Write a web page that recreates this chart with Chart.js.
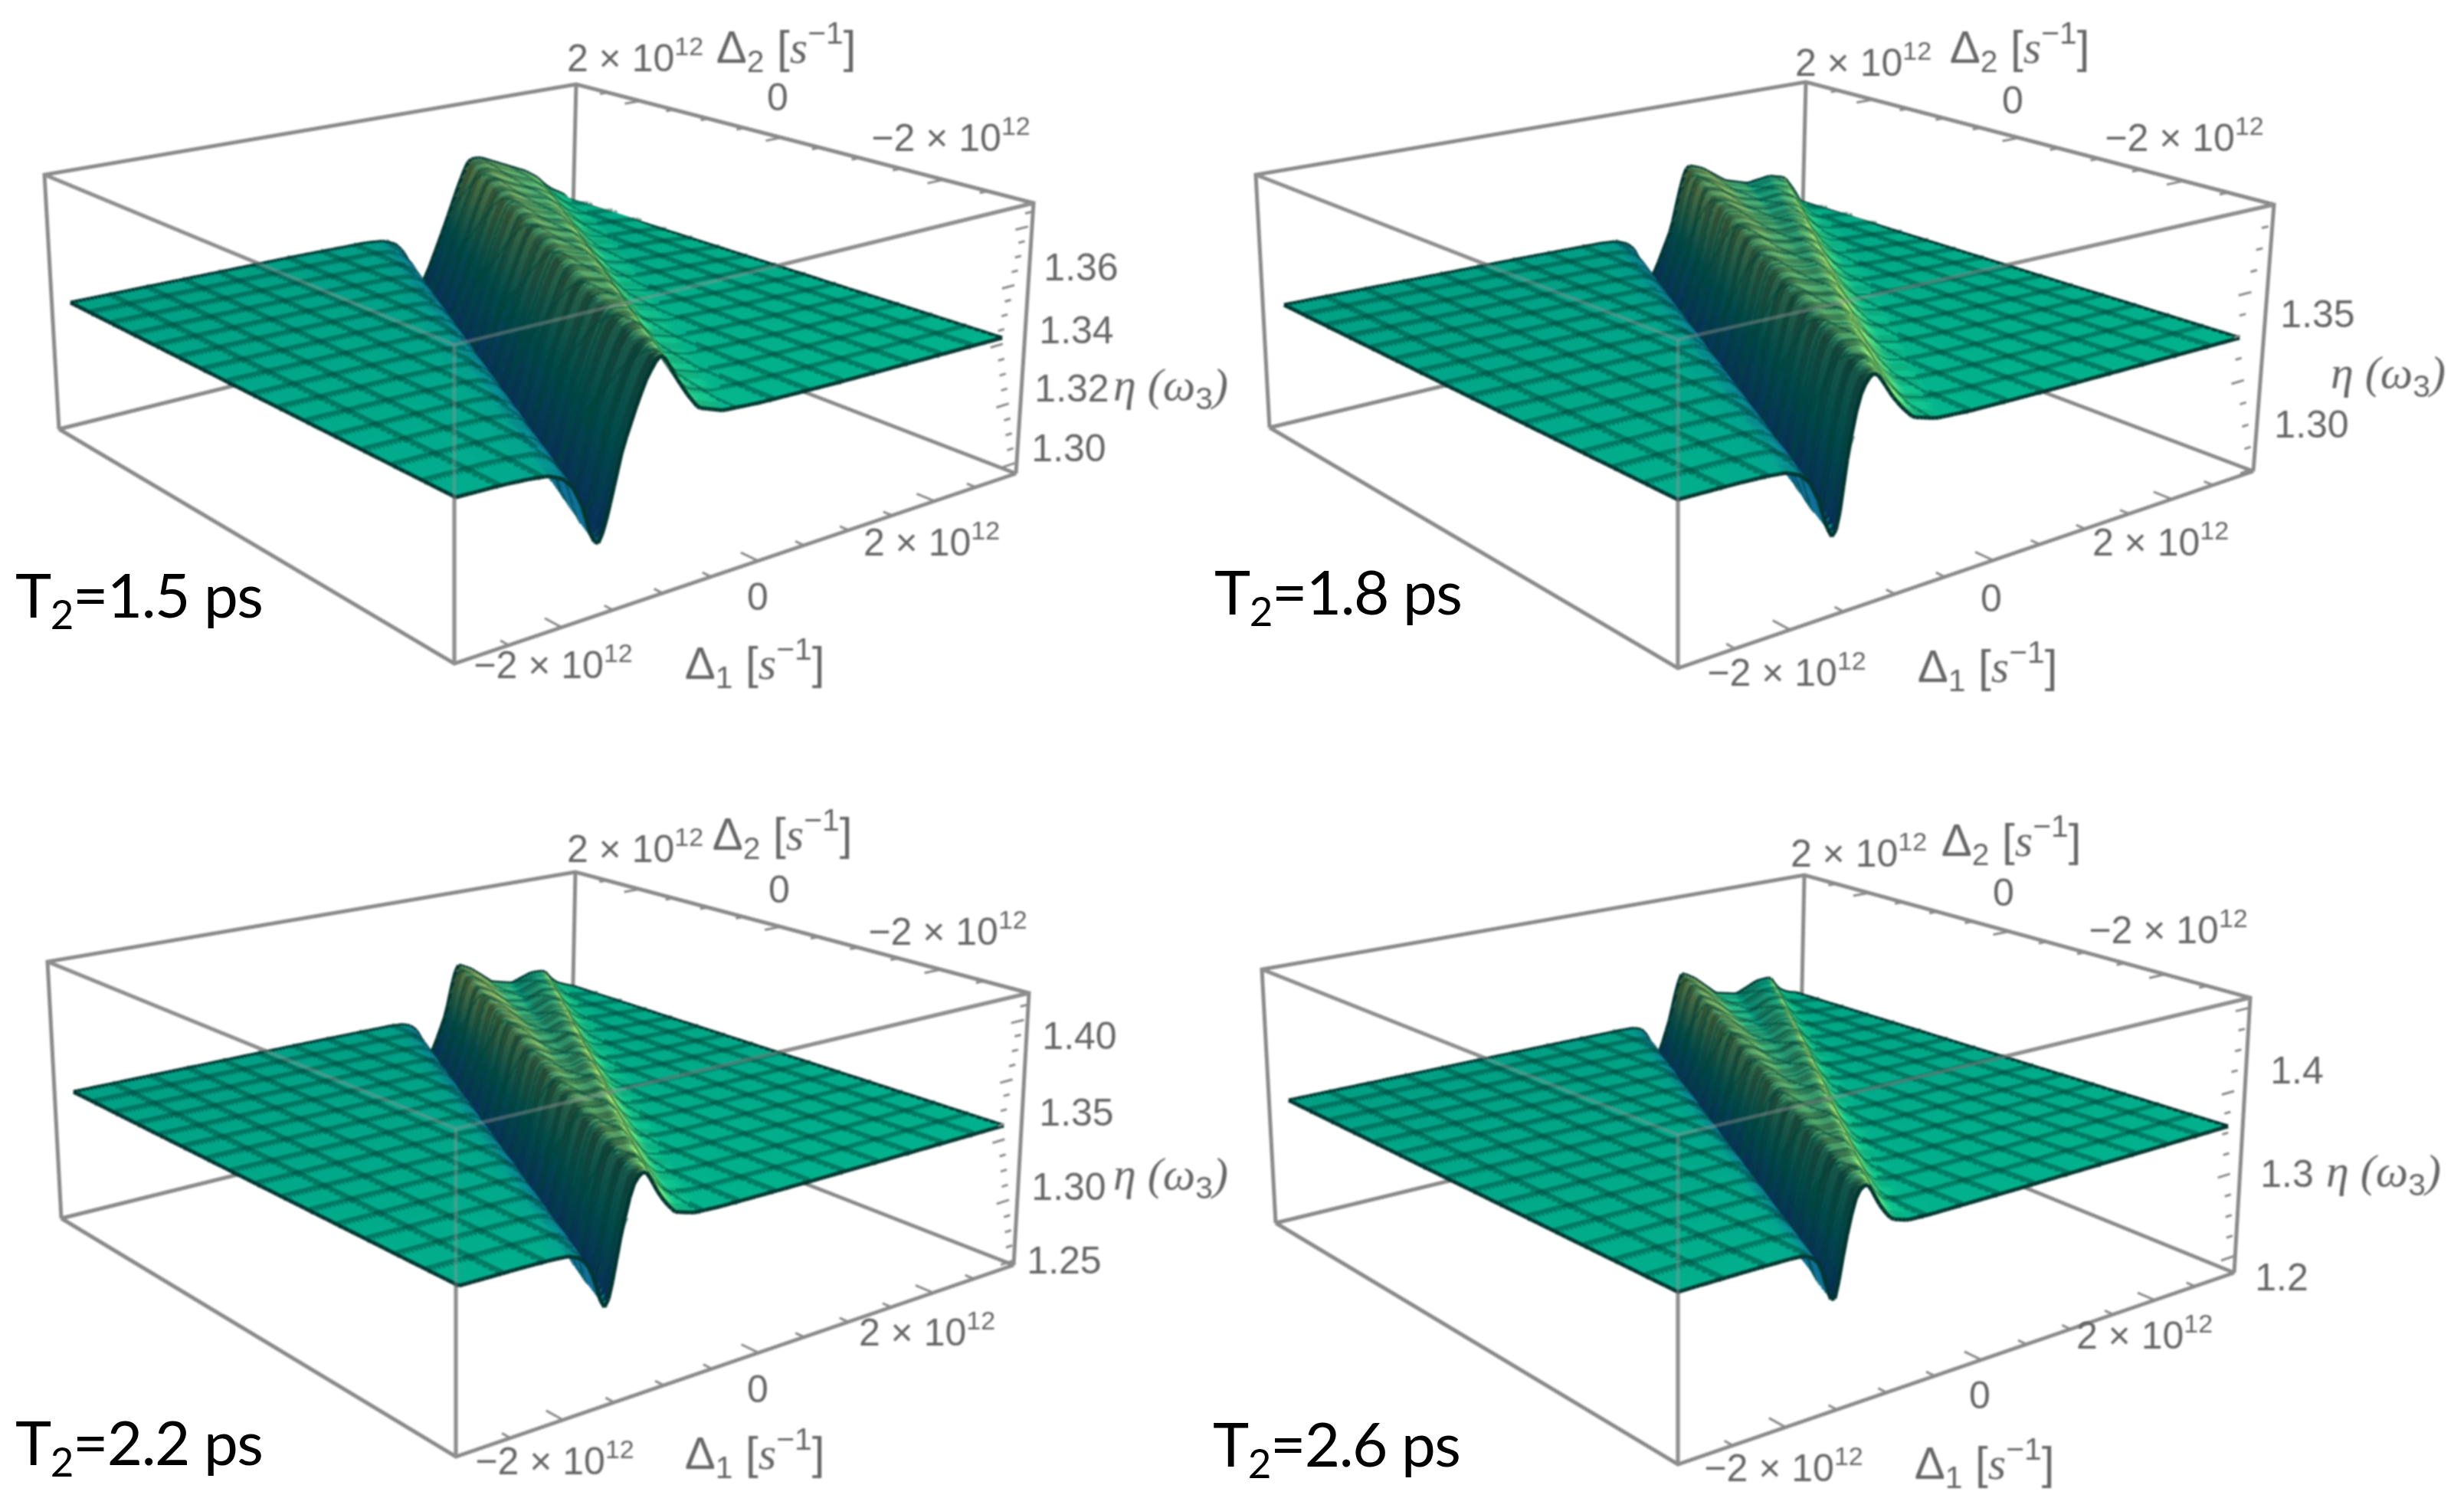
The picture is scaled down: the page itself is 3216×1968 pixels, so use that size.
<!DOCTYPE html>
<html>
<head>
<meta charset="utf-8">
<title>eta surfaces</title>
<script src="https://cdn.jsdelivr.net/npm/chart.js@4"></script>
<style>
  html, body { margin: 0; padding: 0; background: #fff; }
  #page { position: relative; width: 3216px; height: 1968px; overflow: hidden; }
  canvas { position: absolute; filter: blur(1.3px); }
  .lbl { position: absolute; transform: translate(-50%, -50%); white-space: nowrap; color: #666;
         font: 50px "Liberation Sans", sans-serif; filter: blur(0.8px); }
  .lbl.axis { font-size: 60px; }
  .lbl sup { font-size: 0.68em; line-height: 0; vertical-align: 0.62em; }
  .lbl sub { font-size: 0.68em; line-height: 0; vertical-align: -0.3em; }
  .lbl i { font-family: "Liberation Serif", serif; }
  .name { position: absolute; transform: translateY(-50%); white-space: nowrap; color: #000;
          font: 80px Lato, sans-serif; letter-spacing: -1.5px; }
  .name sub { font-size: 0.66em; line-height: 0; vertical-align: -0.28em; }
</style>
</head>
<body>
<div id="page"></div>
<script>
// detunings are in units of 1e12 s^-1
const delta1Range = [-3, 3];
const delta2Range = [-3, 3];
const delta1Ticks = [-3, -2.5, -2, -1.5, -1, -0.5, 0, 0.5, 1, 1.5, 2, 2.5, 3];
const delta2Ticks = [-3, -2.5, -2, -1.5, -1, -0.5, 0, 0.5, 1, 1.5, 2, 2.5, 3];
const majorDeltaTicks = [-2, 0, 2];
const delta2Rows = [-3, -2, -1, 0, 1, 2, 3];

// T2 = 1.5 ps
const etaRange15 = [1.2865, 1.378];
const etaFlat15 = 1.332;
const etaTicks15 = [1.29, 1.295, 1.3, 1.305, 1.31, 1.315, 1.32, 1.325, 1.33, 1.335, 1.34, 1.345, 1.35, 1.355, 1.36, 1.365, 1.37, 1.375];
const trough15 = [-1.68, -1.23, -0.78, -0.33, 0.12, 0.57, 1.02];
const peakA15 = [-1.12, -0.65, -0.19, 0.28, 0.75, 1.21, 1.68];
const peakB15 = [-1.04, -0.45, 0.14, 0.73, 1.32, 1.91, 2.5];
const eta15 = [
  [1.332, 1.3315, 1.33, 1.323, 1.306, 1.308, 1.331, 1.351, 1.357, 1.3585, 1.358, 1.346, 1.3355, 1.3335, 1.332],
  [1.332, 1.3315, 1.33, 1.323, 1.306, 1.308, 1.331, 1.351, 1.357, 1.357, 1.356, 1.344, 1.3355, 1.3335, 1.332],
  [1.332, 1.3315, 1.33, 1.323, 1.307, 1.309, 1.331, 1.351, 1.357, 1.355, 1.354, 1.343, 1.3355, 1.3335, 1.332],
  [1.332, 1.3315, 1.33, 1.323, 1.307, 1.309, 1.331, 1.351, 1.357, 1.354, 1.352, 1.342, 1.335, 1.3335, 1.332],
  [1.332, 1.3315, 1.33, 1.323, 1.308, 1.31, 1.331, 1.351, 1.357, 1.352, 1.35, 1.341, 1.335, 1.3335, 1.332],
  [1.332, 1.3315, 1.33, 1.323, 1.308, 1.31, 1.331, 1.351, 1.357, 1.351, 1.348, 1.34, 1.335, 1.3335, 1.332],
  [1.332, 1.3315, 1.33, 1.323, 1.308, 1.31, 1.331, 1.351, 1.357, 1.351, 1.345, 1.338, 1.334, 1.3325, 1.332]
];

// T2 = 1.8 ps
const etaRange18 = [1.279, 1.4];
const etaFlat18 = 1.339;
const etaTicks18 = [1.28, 1.29, 1.3, 1.31, 1.32, 1.33, 1.34, 1.35, 1.36, 1.37, 1.38, 1.39, 1.4];
const trough18 = [-1.62, -1.18, -0.74, -0.3, 0.14, 0.58, 1.02];
const peakA18 = [-1.24, -0.77, -0.31, 0.16, 0.63, 1.09, 1.56];
const peakB18 = [-1.16, -0.52, 0.13, 0.77, 1.41, 2.06, 2.7];
const eta18 = [
  [1.339, 1.3385, 1.337, 1.329, 1.308, 1.31, 1.338, 1.361, 1.367, 1.368, 1.367, 1.353, 1.3425, 1.3405, 1.339],
  [1.339, 1.3385, 1.337, 1.329, 1.308, 1.31, 1.338, 1.361, 1.367, 1.366, 1.365, 1.351, 1.3425, 1.3405, 1.339],
  [1.339, 1.3385, 1.337, 1.329, 1.309, 1.311, 1.338, 1.362, 1.368, 1.364, 1.363, 1.35, 1.3425, 1.3405, 1.339],
  [1.339, 1.3385, 1.337, 1.329, 1.309, 1.311, 1.338, 1.362, 1.368, 1.362, 1.362, 1.349, 1.342, 1.3405, 1.339],
  [1.339, 1.3385, 1.337, 1.329, 1.31, 1.312, 1.338, 1.363, 1.369, 1.36, 1.361, 1.348, 1.342, 1.3405, 1.339],
  [1.339, 1.3385, 1.337, 1.329, 1.31, 1.312, 1.338, 1.363, 1.369, 1.357, 1.359, 1.346, 1.342, 1.3405, 1.339],
  [1.339, 1.3385, 1.337, 1.329, 1.31, 1.312, 1.338, 1.363, 1.37, 1.353, 1.356, 1.345, 1.34, 1.3395, 1.339]
];

// T2 = 2.2 ps
const etaRange22 = [1.247, 1.428];
const etaFlat22 = 1.339;
const etaTicks22 = [1.25, 1.26, 1.27, 1.28, 1.29, 1.3, 1.31, 1.32, 1.33, 1.34, 1.35, 1.36, 1.37, 1.38, 1.39, 1.4, 1.41, 1.42];
const trough22 = [-1.62, -1.17, -0.72, -0.27, 0.18, 0.63, 1.08];
const peakA22 = [-1.27, -0.81, -0.35, 0.12, 0.58, 1.04, 1.5];
const peakB22 = [-1.19, -0.57, 0.06, 0.68, 1.3, 1.93, 2.55];
const eta22 = [
  [1.339, 1.3385, 1.337, 1.327, 1.302, 1.304, 1.338, 1.367, 1.374, 1.375, 1.374, 1.355, 1.342, 1.34, 1.339],
  [1.339, 1.3385, 1.337, 1.327, 1.302, 1.304, 1.338, 1.367, 1.374, 1.372, 1.372, 1.354, 1.342, 1.34, 1.339],
  [1.339, 1.3385, 1.337, 1.327, 1.303, 1.305, 1.338, 1.367, 1.374, 1.369, 1.371, 1.353, 1.342, 1.34, 1.339],
  [1.339, 1.3385, 1.337, 1.327, 1.304, 1.306, 1.338, 1.367, 1.374, 1.364, 1.37, 1.352, 1.342, 1.34, 1.339],
  [1.339, 1.3385, 1.337, 1.327, 1.305, 1.307, 1.338, 1.368, 1.375, 1.36, 1.368, 1.35, 1.342, 1.34, 1.339],
  [1.339, 1.3385, 1.337, 1.327, 1.306, 1.308, 1.338, 1.368, 1.375, 1.354, 1.365, 1.348, 1.342, 1.34, 1.339],
  [1.339, 1.3385, 1.337, 1.327, 1.306, 1.308, 1.338, 1.368, 1.375, 1.349, 1.359, 1.346, 1.341, 1.3395, 1.339]
];

// T2 = 2.6 ps
const etaRange26 = [1.204, 1.47];
const etaFlat26 = 1.346;
const etaTicks26 = [1.22, 1.24, 1.26, 1.28, 1.3, 1.32, 1.34, 1.36, 1.38, 1.4, 1.42, 1.44, 1.46];
const trough26 = [-1.56, -1.11, -0.66, -0.21, 0.24, 0.69, 1.14];
const peakA26 = [-1.27, -0.81, -0.35, 0.12, 0.58, 1.04, 1.5];
const peakB26 = [-1.19, -0.56, 0.07, 0.71, 1.34, 1.97, 2.6];
const eta26 = [
  [1.346, 1.3455, 1.344, 1.331, 1.297, 1.299, 1.345, 1.379, 1.388, 1.389, 1.388, 1.365, 1.349, 1.347, 1.346],
  [1.346, 1.3455, 1.344, 1.331, 1.297, 1.299, 1.345, 1.379, 1.388, 1.386, 1.386, 1.364, 1.349, 1.347, 1.346],
  [1.346, 1.3455, 1.344, 1.331, 1.298, 1.3, 1.345, 1.38, 1.389, 1.382, 1.385, 1.363, 1.349, 1.347, 1.346],
  [1.346, 1.3455, 1.344, 1.331, 1.298, 1.3, 1.345, 1.381, 1.39, 1.376, 1.384, 1.362, 1.349, 1.347, 1.346],
  [1.346, 1.3455, 1.344, 1.331, 1.299, 1.301, 1.345, 1.382, 1.391, 1.37, 1.382, 1.36, 1.349, 1.347, 1.346],
  [1.346, 1.3455, 1.344, 1.331, 1.299, 1.301, 1.345, 1.383, 1.392, 1.36, 1.378, 1.358, 1.349, 1.347, 1.346],
  [1.346, 1.3455, 1.344, 1.331, 1.299, 1.301, 1.345, 1.384, 1.393, 1.353, 1.372, 1.355, 1.348, 1.3465, 1.346]
];

const TICK_2 = '2 × 10<sup>12</sup>';
const TICK_M2 = '−2 × 10<sup>12</sup>';
const DELTA1 = 'Δ<sub>1</sub> [<i>s</i><sup>−1</sup>]';
const DELTA2 = 'Δ<sub>2</sub> [<i>s</i><sup>−1</sup>]';
const ETA = '<i>η (ω</i><sub>3</sub><i>)</i>';

// where each box sits on the page, in page pixels: F front, R right, B back, L left
const panels = [
  {
    name: 'T<sub>2</sub>=1.5 ps', nameAt: [20, 775], origin: [0, 0], width: 1,
    etaRange: etaRange15, etaFlat: etaFlat15, etaTicks: etaTicks15,
    trough: trough15, peakA: peakA15, peakB: peakB15, eta: eta15,
    top: { F: [593, 450], R: [1349, 265], B: [752, 110], L: [58, 228] },
    flat: { F: [595, 649], R: [1308, 441], B: [740, 260], L: [92, 395] },
    bottom: { F: [593, 866], R: [1326, 618], B: [745, 394], L: [77, 560] },
    labels: [[TICK_2, 829, 76], [DELTA2, 1026, 62], ['0', 1015, 127], [TICK_M2, 1241, 180],
      ['1.36', 1411, 349], ['1.34', 1405, 431], ['1.32', 1399, 507], [ETA, 1528, 502], ['1.30', 1395, 585],
      [TICK_2, 1216, 708], ['0', 989, 779], [TICK_M2, 722, 868], [DELTA1, 985, 866]]
  },
  {
    name: 'T<sub>2</sub>=1.8 ps', nameAt: [1585, 771], origin: [1608, 0], width: 0.9,
    etaRange: etaRange18, etaFlat: etaFlat18, etaTicks: etaTicks18,
    trough: trough18, peakA: peakA18, peakB: peakB18, eta: eta18,
    top: { F: [2190, 443], R: [2968, 267], B: [2357, 107], L: [1639, 228] },
    flat: { F: [2190, 652], R: [2923, 441], B: [2352, 264], L: [1676, 398] },
    bottom: { F: [2190, 872], R: [2941, 615], B: [2350, 392], L: [1657, 558] },
    labels: [[TICK_2, 2432, 82], [DELTA2, 2636, 62], ['0', 2627, 131], [TICK_M2, 2851, 180],
      ['1.35', 3025, 410], ['1.30', 3017, 554], [ETA, 3117, 486],
      [TICK_2, 2820, 708], ['0', 2599, 781], [TICK_M2, 2332, 878], [DELTA1, 2594, 870]]
  },
  {
    name: 'T<sub>2</sub>=2.2 ps', nameAt: [20, 1881], origin: [0, 984], width: 0.75,
    etaRange: etaRange22, etaFlat: etaFlat22, etaTicks: etaTicks22,
    trough: trough22, peakA: peakA22, peakB: peakB22, eta: eta22,
    top: { F: [595, 1473], R: [1343, 1296], B: [751, 1138], L: [62, 1255] },
    flat: { F: [599, 1678], R: [1310, 1469], B: [749, 1288], L: [96, 1425] },
    bottom: { F: [595, 1901], R: [1323, 1651], B: [745, 1425], L: [80, 1590] },
    labels: [[TICK_2, 829, 1108], [DELTA2, 1021, 1089], ['0', 1017, 1161], [TICK_M2, 1237, 1216],
      ['1.40', 1409, 1352], ['1.35', 1405, 1452], ['1.30', 1395, 1549], [ETA, 1528, 1532], ['1.25', 1389, 1645],
      [TICK_2, 1210, 1739], ['0', 989, 1813], [TICK_M2, 724, 1907], [DELTA1, 985, 1897]]
  },
  {
    name: 'T<sub>2</sub>=2.6 ps', nameAt: [1583, 1883], origin: [1608, 984], width: 0.6,
    etaRange: etaRange26, etaFlat: etaFlat26, etaTicks: etaTicks26,
    trough: trough26, peakA: peakA26, peakB: peakB26, eta: eta26,
    top: { F: [2190, 1481], R: [2937, 1302], B: [2355, 1142], L: [1647, 1265] },
    flat: { F: [2190, 1686], R: [2908, 1470], B: [2344, 1296], L: [1682, 1436] },
    bottom: { F: [2190, 1911], R: [2916, 1661], B: [2349, 1430], L: [1665, 1596] },
    labels: [[TICK_2, 2426, 1114], [DELTA2, 2625, 1097], ['0', 2615, 1165], [TICK_M2, 2830, 1214],
      ['1.4', 2998, 1397], ['1.3', 2985, 1532], [ETA, 3111, 1528], ['1.2', 2978, 1667],
      [TICK_2, 2799, 1743], ['0', 2584, 1821], [TICK_M2, 2328, 1916], [DELTA1, 2590, 1910]]
  }
];

const DELTA_CELLS = 15;
const U_PER_CELL = 10;
const V_PER_CELL = 5;
const FRAME_GREY = '#8a8a8a';
const FRAME_OVER = 'rgba(150,150,150,0.42)';
const MESH = 'rgba(0,66,56,0.48)';
const MESH_WIDTH = 10;
const MESH_WIDTH_RIDGE = 4;
const EDGE = '#01352f';

function quadMap(q) {
  const x0 = q.F[0], y0 = q.F[1], x1 = q.R[0], y1 = q.R[1];
  const x2 = q.B[0], y2 = q.B[1], x3 = q.L[0], y3 = q.L[1];
  const dx1 = x1 - x2, dx2 = x3 - x2, sx = x0 - x1 + x2 - x3;
  const dy1 = y1 - y2, dy2 = y3 - y2, sy = y0 - y1 + y2 - y3;
  const den = dx1 * dy2 - dx2 * dy1;
  const g = (sx * dy2 - dx2 * sy) / den;
  const h = (dx1 * sy - sx * dy1) / den;
  const a = x1 - x0 + g * x1, b = x3 - x0 + h * x3;
  const d = y1 - y0 + g * y1, e = y3 - y0 + h * y3;
  return (u, v) => {
    const w = g * u + h * v + 1;
    return [(a * u + b * v + x0) / w, (d * u + e * v + y0) / w];
  };
}

function makeProjector(panel) {
  const top = quadMap(panel.top);
  const flat = quadMap(panel.flat);
  const bottom = quadMap(panel.bottom);
  const [etaMin, etaMax] = panel.etaRange;
  return (d1, d2, eta) => {
    const u = (d1 - delta1Range[0]) / (delta1Range[1] - delta1Range[0]);
    const v = (d2 - delta2Range[0]) / (delta2Range[1] - delta2Range[0]);
    const mid = flat(u, v);
    const end = eta >= panel.etaFlat ? top(u, v) : bottom(u, v);
    const t = eta >= panel.etaFlat
      ? (eta - panel.etaFlat) / (etaMax - panel.etaFlat)
      : (panel.etaFlat - eta) / (panel.etaFlat - etaMin);
    return {
      x: mid[0] + (end[0] - mid[0]) * t - panel.origin[0],
      y: mid[1] + (end[1] - mid[1]) * t - panel.origin[1]
    };
  };
}

// Δ1 position of every η reading in one row
function rowDelta1(panel, r) {
  const t = panel.trough[r], a = panel.peakA[r], b = panel.peakB[r], w = panel.width;
  return [-3, t - 0.75 * w, t - 0.35 * w, t - 0.15 * w, t, t + 0.08 * w, (t + a) / 2, a - 0.1 * w, a,
    (a + b) / 2, b, Math.min(b + 0.22 * w, 2.94), Math.min(b + 0.48 * w, 2.96), Math.min(b + 1.3 * w, 2.98), 3];
}

function roundCorners(pts) {
  const out = [pts[0]];
  for (let i = 0; i < pts.length - 1; i++) {
    const p = pts[i], q = pts[i + 1];
    out.push([p[0] * 0.75 + q[0] * 0.25, p[1] * 0.75 + q[1] * 0.25]);
    out.push([p[0] * 0.25 + q[0] * 0.75, p[1] * 0.25 + q[1] * 0.75]);
  }
  out.push(pts[pts.length - 1]);
  return out;
}

// straight facets between the rows that were read, like a line chart between its points
function rowAt(panel, d2) {
  let r = 0;
  while (r < delta2Rows.length - 2 && d2 > delta2Rows[r + 1]) r++;
  const t = (d2 - delta2Rows[r]) / (delta2Rows[r + 1] - delta2Rows[r]);
  const a = rowDelta1(panel, r), b = rowDelta1(panel, r + 1);
  const pts = a.map((d, k) => [d + (b[k] - d) * t, panel.eta[r][k] + (panel.eta[r + 1][k] - panel.eta[r][k]) * t]);
  return roundCorners(pts);
}

function etaOnRow(pts, d1) {
  let k = 0;
  while (k < pts.length - 2 && d1 > pts[k + 1][0]) k++;
  const span = pts[k + 1][0] - pts[k][0];
  const t = span > 0 ? (d1 - pts[k][0]) / span : 0;
  return pts[k][1] + (pts[k + 1][1] - pts[k][1]) * t;
}

function mix(a, b, t) {
  return [a[0] + (b[0] - a[0]) * t, a[1] + (b[1] - a[1]) * t, a[2] + (b[2] - a[2]) * t];
}

function facetColor(panel, amp, slope, eta, far, stripe) {
  const level = Math.max(-1, Math.min(1, (eta - panel.etaFlat) / amp));
  const s = slope * 0.3 * panel.width / amp;
  const steep = Math.min(1, Math.pow(Math.abs(s) * 2.2, 0.75));
  const flat = mix([0, 176, 140], [0, 160, 132], far);
  let c;
  if (s > 0) {
    const dark = level < 0 ? mix([0, 72, 72], [8, 44, 88], -level) : mix([0, 72, 72], [70, 104, 62], level * far + level * 0.3);
    c = mix(flat, dark, steep);
  } else if (level >= 0) {
    let lit = mix([0, 212, 142], [150, 238, 118], Math.min(1, level * 2.2));
    lit = mix(lit, [222, 208, 92], Math.min(1, Math.max(0, level - 0.3) * far * 2.2));
    c = mix(flat, lit, steep);
  } else {
    c = mix(flat, [16, 112, 152], steep);
  }
  if (level > 0.45) c = mix(c, [110, 120, 66], ((level - 0.45) / 0.55) * (1 - steep) * 0.85);
  if (steep > 0.25 || level > 0.2) {
    const lv = Math.max(0, level);
    const k = stripe ? 0.96 - 0.18 * lv : 1.02 + 0.05 * lv;
    c = [c[0] * k, c[1] * k, c[2] * k];
  }
  return `rgb(${Math.round(c[0])},${Math.round(c[1])},${Math.round(c[2])})`;
}

function buildSurface(panel, project) {
  const nu = DELTA_CELLS * U_PER_CELL;
  const nv = DELTA_CELLS * V_PER_CELL;
  const grid = [];
  for (let j = 0; j <= nv; j++) {
    const d2 = -3 + (6 * j) / nv;
    const pts = rowAt(panel, d2);
    const row = [];
    for (let i = 0; i <= nu; i++) {
      const d1 = -3 + (6 * i) / nu;
      const eta = etaOnRow(pts, d1);
      row.push({ eta, d1, p: project(d1, d2, eta) });
    }
    grid.push(row);
  }
  return { grid, nu, nv };
}

const surfacePlugin = {
  id: 'surface',
  beforeDatasetDraw(chart, args, opts) {
    if (args.index !== opts.frontCount - 1) return;
    const { panel, surface } = opts;
    const { grid, nu, nv } = surface;
    const amp = Math.max(...panel.eta.flat()) - panel.etaFlat;
    const px = (n) => [chart.scales.x.getPixelForValue(n.p.x), chart.scales.y.getPixelForValue(n.p.y)];
    const ctx = chart.ctx;
    const strokeEdge = (p, q, color, width) => {
      ctx.beginPath();
      ctx.moveTo(p[0], p[1]);
      ctx.lineTo(q[0], q[1]);
      ctx.strokeStyle = color;
      ctx.lineWidth = width;
      ctx.stroke();
    };
    ctx.save();
    ctx.lineJoin = 'round';
    ctx.lineCap = 'butt';
    // far corner first, nearest corner last
    for (let j = nv - 1; j >= 0; j--) {
      for (let i = nu - 1; i >= 0; i--) {
        const a = grid[j][i], b = grid[j][i + 1], c = grid[j + 1][i + 1], d = grid[j + 1][i];
        const pa = px(a), pb = px(b), pc = px(c), pd = px(d);
        const slope = ((b.eta + c.eta - a.eta - d.eta) / 2) / (b.d1 - a.d1);
        const eta = (a.eta + b.eta + c.eta + d.eta) / 4;
        const color = facetColor(panel, amp, slope, eta, j / nv, (j % 4) < 2);
        const meshWidth = Math.abs(eta - panel.etaFlat) / amp > 0.1 ? MESH_WIDTH_RIDGE : MESH_WIDTH;
        ctx.beginPath();
        ctx.moveTo(pa[0], pa[1]);
        ctx.lineTo(pb[0], pb[1]);
        ctx.lineTo(pc[0], pc[1]);
        ctx.lineTo(pd[0], pd[1]);
        ctx.closePath();
        ctx.fillStyle = color;
        ctx.strokeStyle = color;
        ctx.lineWidth = 1;
        ctx.fill();
        ctx.stroke();
        if ((j + 1) % V_PER_CELL === 0) {
          if (j + 1 === nv) strokeEdge(pd, pc, EDGE, 5);
          else strokeEdge(pd, pc, MESH, meshWidth);
        }
        if ((i + 1) % U_PER_CELL === 0) {
          if (i + 1 === nu) strokeEdge(pb, pc, EDGE, 5);
          else strokeEdge(pb, pc, MESH, meshWidth);
        }
        if (j === 0) strokeEdge(pa, pb, EDGE, 5);
        if (i === 0) strokeEdge(pa, pd, EDGE, 5);
      }
    }
    ctx.restore();
  }
};

function lineSet(points, color, width) {
  return { data: points, showLine: true, pointRadius: 0, borderColor: color, borderWidth: width, tension: 0, fill: false };
}

function frameDatasets(panel, project) {
  const [d1a, d1b] = delta1Range;
  const [d2a, d2b] = delta2Range;
  const [lo, hi] = panel.etaRange;
  const F = (e) => project(d1a, d2a, e);
  const R = (e) => project(d1b, d2a, e);
  const B = (e) => project(d1b, d2b, e);
  const L = (e) => project(d1a, d2b, e);
  // these sit over the surface, faint there
  const front = [
    lineSet([L(hi), F(hi), R(hi)], FRAME_OVER, 5),
    lineSet([F(hi), F(lo)], FRAME_OVER, 5),
    lineSet([L(lo), F(lo), R(lo)], FRAME_GREY, 5)
  ];
  const back = [
    lineSet([L(lo), L(hi), B(hi), R(hi), R(lo)], FRAME_GREY, 5),
    lineSet([L(lo), B(lo), R(lo)], FRAME_GREY, 5),
    lineSet([B(hi), B(lo)], FRAME_GREY, 5),
    // solid copy under the surface so the same edges stay full grey on the white
    lineSet([L(hi), F(hi), R(hi)], FRAME_GREY, 5),
    lineSet([F(hi), F(lo)], FRAME_GREY, 5)
  ];
  delta1Ticks.forEach((t) => {
    const len = majorDeltaTicks.includes(t) ? 0.2 : 0.1;
    front.push(lineSet([project(t, d2a, lo), project(t, d2a + len, lo)], FRAME_GREY, 3));
  });
  delta2Ticks.forEach((t) => {
    const len = majorDeltaTicks.includes(t) ? 0.2 : 0.1;
    front.push(lineSet([project(d1b, t, hi), project(d1b - len, t, hi)], FRAME_GREY, 3));
  });
  panel.etaTicks.forEach((t, i) => {
    const len = i % 4 === 0 ? 0.16 : 0.08;
    front.push(lineSet([project(d1b, d2a, t), project(d1b - len, d2a, t)], FRAME_GREY, 3));
  });
  return { datasets: front.concat(back), frontCount: front.length };
}

function addText(page, cls, html, x, y) {
  const el = document.createElement('div');
  el.className = cls;
  el.innerHTML = html;
  el.style.left = `${x}px`;
  el.style.top = `${y}px`;
  page.appendChild(el);
}

function renderPanel(page, panel) {
  const canvas = document.createElement('canvas');
  canvas.width = 1608;
  canvas.height = 984;
  canvas.style.left = `${panel.origin[0]}px`;
  canvas.style.top = `${panel.origin[1]}px`;
  page.appendChild(canvas);

  const project = makeProjector(panel);
  const surface = buildSurface(panel, project);
  const { datasets, frontCount } = frameDatasets(panel, project);

  new Chart(canvas, {
    type: 'scatter',
    data: { datasets },
    plugins: [surfacePlugin],
    options: {
      responsive: false,
      animation: false,
      events: [],
      layout: { padding: 0 },
      plugins: {
        legend: { display: false },
        tooltip: { enabled: false },
        surface: { panel, surface, frontCount }
      },
      scales: {
        x: { type: 'linear', min: 0, max: 1608, display: false },
        y: { type: 'linear', min: 0, max: 984, reverse: true, display: false }
      }
    }
  });

  panel.labels.forEach(([html, x, y]) => {
    const isAxis = html === DELTA1 || html === DELTA2 || html === ETA;
    addText(page, isAxis ? 'lbl axis' : 'lbl', html, x, y);
  });
  addText(page, 'name', panel.name, panel.nameAt[0], panel.nameAt[1]);
}

const page = document.getElementById('page');
panels.forEach((panel) => renderPanel(page, panel));
</script>
</body>
</html>
